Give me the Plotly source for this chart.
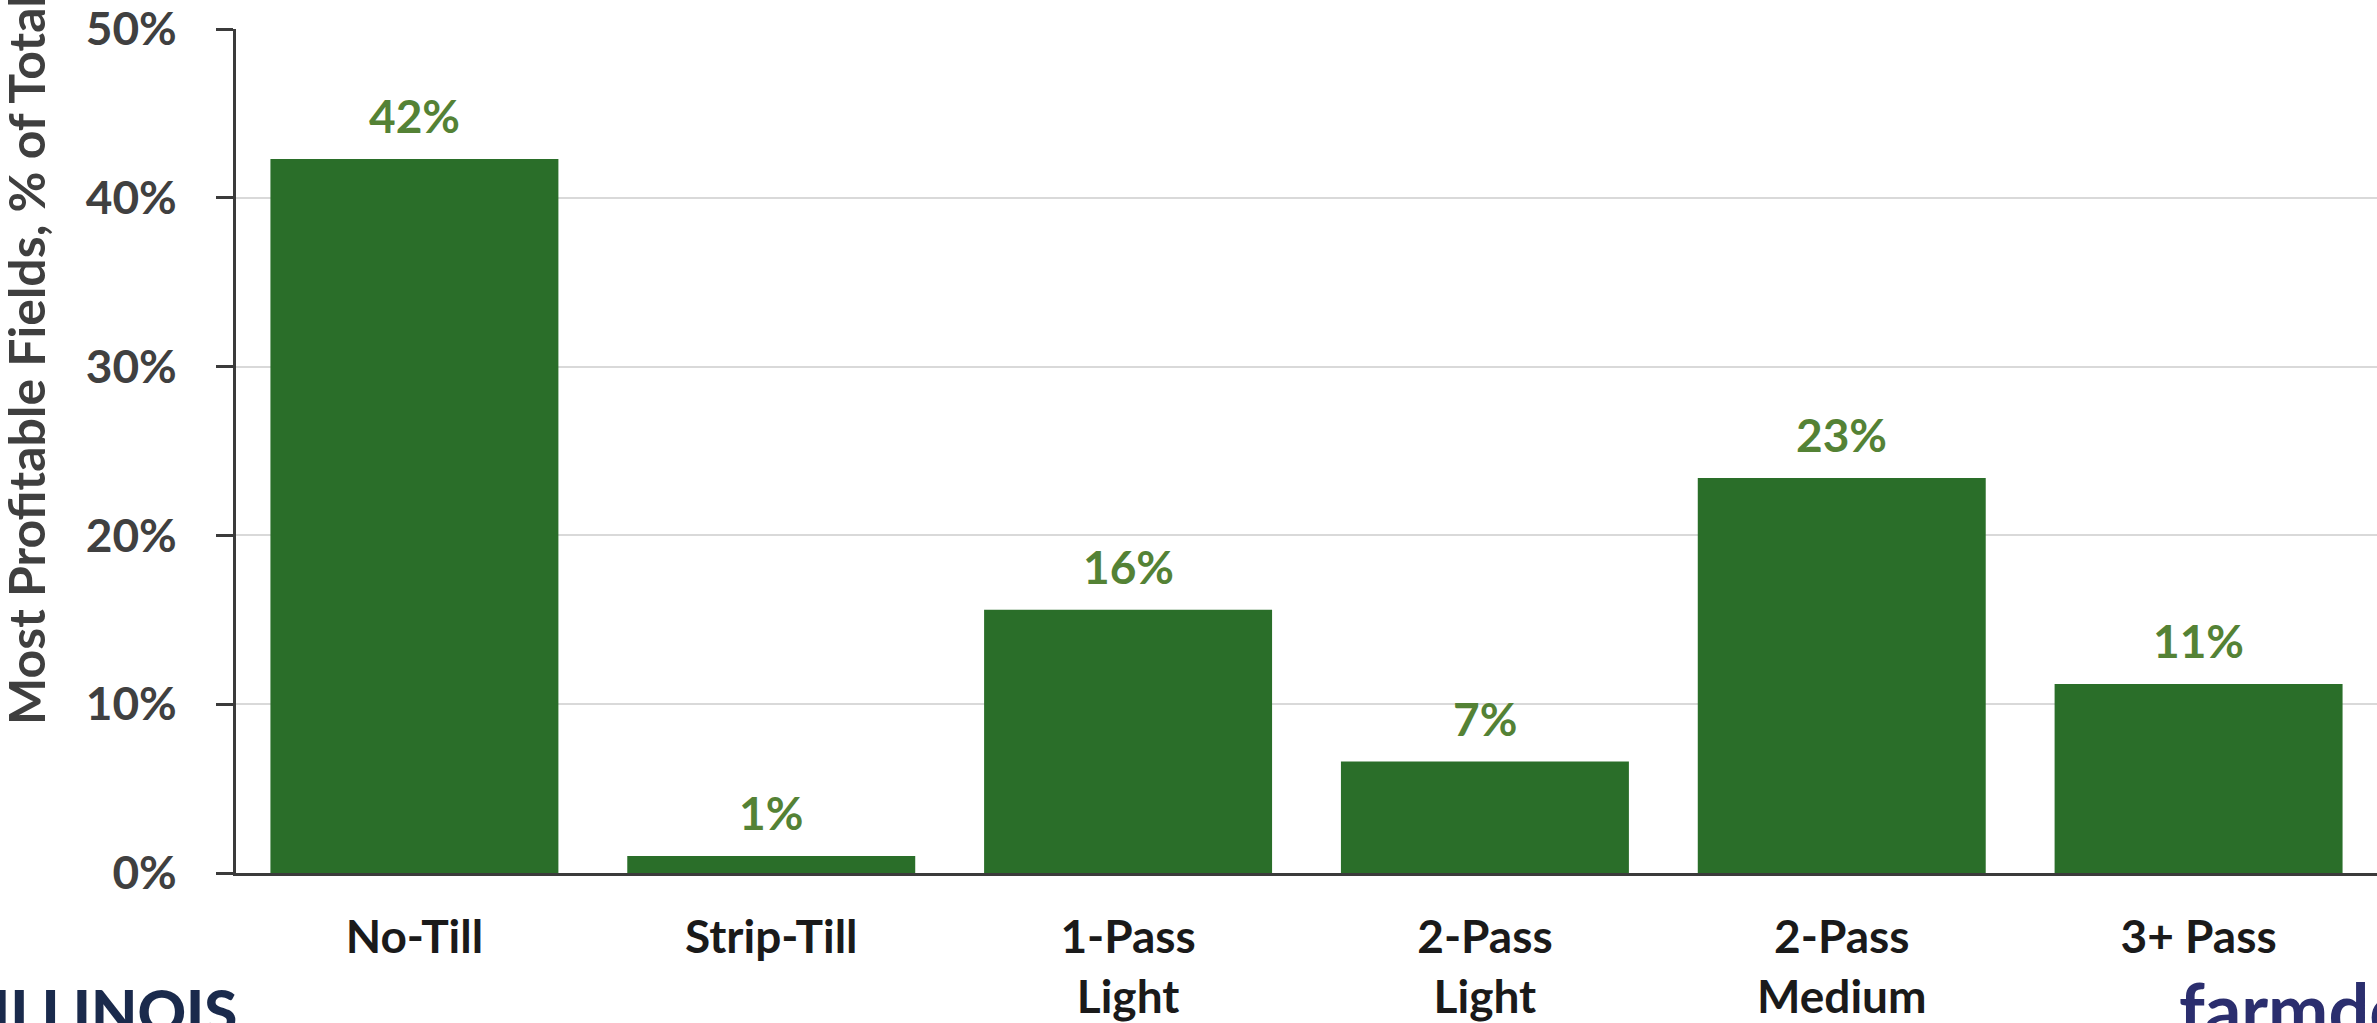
import plotly.graph_objects as go

categories = ["No-Till", "Strip-Till", "1-Pass<br>Light", "2-Pass<br>Light", "2-Pass<br>Medium", "3+ Pass"]
values = [42.3, 1.0, 15.6, 6.6, 23.4, 11.2]
y_ticks = [0, 10, 20, 30, 40, 50]
y_tick_labels = ["0%", "10%", "20%", "30%", "40%", "50%"]

W, H = 2377, 1023
L, R, T, B = 236, 0, 26, 142
PW, PH = W - L - R, H - T - B

def px_x(p):
    return (p - L) / PW

def px_y(p):
    return (H - B - p) / PH

FONT = "Lato, 'Open Sans', sans-serif"

fig = go.Figure()
fig.add_trace(go.Bar(
    x=categories, y=values,
    marker=dict(color="#2a6e29", line=dict(width=0)),
    hoverinfo="skip",
))

annotations = []
for c, v in zip(categories, values):
    annotations.append(dict(
        x=c, y=v, xref="x", yref="y", text=f"{v:.0f}%",
        showarrow=False, yanchor="bottom", yshift=14,
        font=dict(family=FONT, size=46, color="#548235", weight="bold"),
    ))

annotations.append(dict(
    x=px_x(26), y=px_y(733), xref="paper", yref="paper",
    text="Most Profitable Fields, % of Total", textangle=-90,
    showarrow=False, xanchor="center", yanchor="bottom",
    font=dict(family=FONT, size=50, color="#3f3f3f", weight="bold"),
))
annotations.append(dict(
    x=px_x(-10), y=px_y(982), xref="paper", yref="paper",
    text="ILLINOIS", showarrow=False, xanchor="left", yanchor="top",
    font=dict(family=FONT, size=60, color="#1a2a4c", weight=900),
))
annotations.append(dict(
    x=px_x(2177), y=px_y(972), xref="paper", yref="paper",
    text="farmdoc", showarrow=False, xanchor="left", yanchor="top",
    font=dict(family=FONT, size=72, color="#2b2e6e", weight="bold"),
))

fig.update_layout(
    width=W, height=H,
    margin=dict(l=L, r=R, t=T, b=B, pad=0),
    paper_bgcolor="white", plot_bgcolor="white",
    bargap=0.193,
    showlegend=False,
    annotations=annotations,
    font=dict(family=FONT),
)
fig.update_xaxes(
    type="category", range=[-0.5, 5.5],
    showline=True, linecolor="#3b3b3b", linewidth=3,
    ticks="", showgrid=False,
    tickfont=dict(family=FONT, size=46, color="#1a1a1a", weight="bold"),
    ticklabelstandoff=22,
)
fig.update_yaxes(
    range=[0, 50], tickvals=y_ticks, ticktext=y_tick_labels,
    showline=True, linecolor="#3b3b3b", linewidth=3,
    ticks="outside", ticklen=17, tickwidth=3, tickcolor="#3b3b3b",
    showgrid=True, gridcolor="#d9d9d9", gridwidth=2,
    zeroline=False,
    tickfont=dict(family=FONT, size=46, color="#404040", weight="bold"),
    ticklabelstandoff=30,
    ticklabeloverflow="allow",
)

fig.write_html("out.html")
